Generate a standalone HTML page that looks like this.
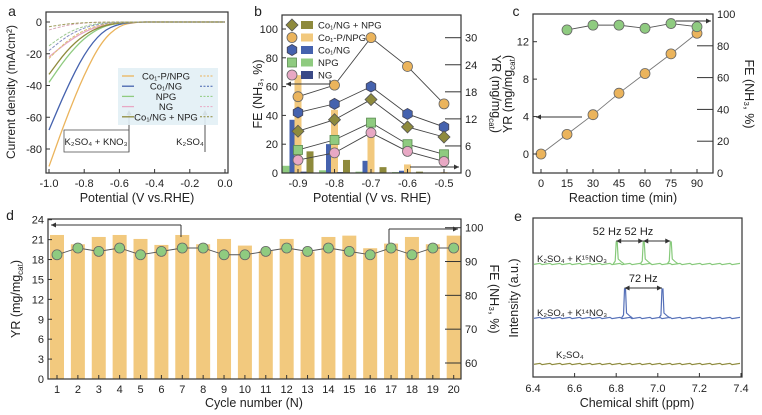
<!DOCTYPE html>
<html><head><meta charset="utf-8"><style>
body{margin:0;background:#fff}
svg{display:block;font-family:"Liberation Sans",sans-serif}
</style></head><body>
<svg id="fig" width="762" height="415" viewBox="0 0 762 415"></svg>
<script>
// ---------- Panel a data ----------
const aPot=[-1.0,-0.9,-0.8,-0.7,-0.6,-0.5,-0.4,0];
const aCo1PNPG=[-91,-60,-33,-12,-2,0,0,0];
const aCo1NG=[-68,-42,-20,-6,-1,0,0,0];
const aNPG=[-38,-22,-10,-3,-0.5,0,0,0];
const aNG=[-22,-13,-6,-2,-0.3,0,0,0];
const aMix=[-33,-18,-8,-2.5,-0.4,0,0,0];
const aCo1PNPGd=[-23,-12,-5,-1.5,-0.2,0,0,0];
const aCo1NGd=[-18,-9,-3.5,-1,-0.1,0,0,0];
const aNPGd=[-15,-7,-2.5,-0.6,0,0,0,0];
const aNGd=[-5,-2,-0.6,-0.1,0,0,0,0];
const aMixd=[-3,-1.2,-0.4,-0.1,0,0,0,0];
// ---------- Panel b data ----------
const bPot=[-0.9,-0.8,-0.7,-0.6,-0.5];
const bFEmix=[29,37,51,32,25];
const bFEco1p=[53,61,94,74,48];
const bFEco1ng=[42,48,60,41,32];
const bFEnpg=[16,23,35,20,13];
const bFEng=[9,14,28,15,8];
const bYRnpg=[1.6,0.6,0.3,0.2,0.1];
const bYRco1ng=[11.8,6.4,2.7,0.5,0.1];
const bYRco1p=[21.7,14,8.9,1.9,0.2];
const bYRng=[0.3,0.2,0.1,0.1,0.1];
const bYRmix=[4.8,2.9,1.3,0.3,0.1];
// ---------- Panel c data ----------
const cTimeYR=[0,15,30,45,60,75,90];
const cYR=[0,2.1,4.2,6.5,8.6,10.7,12.9];
const cTimeFE=[15,30,45,60,75,90];
const cFE=[90,93,93,91,94,92];
// ---------- Panel d data ----------
const dCycles=[1,2,3,4,5,6,7,8,9,10,11,12,13,14,15,16,17,18,19,20];
const dYR=[21.7,20.3,21.4,21.7,21.1,20.2,21.7,20.3,21.1,20.1,19.3,21.1,19.2,21.4,21.6,19.7,20.4,21.4,20.3,21.6];
const dFE=[92,94,93,94,92,93,94,94,92,92,93,94,93,94,93,92,94,92,94,94];
// ---------- Panel e data ----------
const eTicks=[6.4,6.6,6.8,7.0,7.2,7.4];
const e15Peaks=[6.80,6.93,7.06];
const e14Peaks=[6.84,7.02];

const NS="http://www.w3.org/2000/svg";
const svg=document.getElementById('fig');
function el(tag,attrs,parent,txt){const e=document.createElementNS(NS,tag);for(const k in attrs)e.setAttribute(k,attrs[k]);if(txt!==undefined)e.textContent=txt;(parent||svg).appendChild(e);return e;}
function lin(d0,d1,r0,r1){return v=>r0+(v-d0)*(r1-r0)/(d1-d0);}
function grp(name){const g=el('g',{});return g;}
function txt(g,x,y,s,size,anchor,name,extra){const t=el('text',Object.assign({x:x,y:y,'font-size':size,'text-anchor':anchor||'middle',fill:'#222'},extra||{}),g,s);return t;}
function yrTitle(g,x,y,rot,name){const t=el('text',{x:x,y:y,'font-size':12.5,'text-anchor':'middle',fill:'#222',transform:`rotate(${rot} ${x} ${y})`},g);el('tspan',{},t,'YR (mg/mg');el('tspan',{'font-size':8,dy:3},t,'cat');el('tspan',{dy:-3},t,')');}
function box(g,x0,y0,x1,y1){const r=el('rect',{x:x0,y:y0,width:x1-x0,height:y1-y0,fill:'none',stroke:'#333','stroke-width':1.2},g);}
function tickY(g,x,y,dir,len){el('line',{x1:x,y1:y,x2:x+dir*len,y2:y,stroke:'#333','stroke-width':1},g);}
function tickX(g,x,y,len){el('line',{x1:x,y1:y,x2:x,y2:y-len,stroke:'#333','stroke-width':1},g);}
function poly(g,xs,ys,color,w,dash,name){const p=el('polyline',{points:xs.map((x,i)=>x+','+ys[i]).join(' '),fill:'none',stroke:color,'stroke-width':w,'stroke-dasharray':dash||'none'},g);return p;}
function sm(g,xs,ys,color,w,dash,name){let d='M'+xs[0]+','+ys[0];for(let i=1;i<xs.length;i++){const mx=(xs[i-1]+xs[i])/2;d+=' Q'+xs[i-1]+','+ys[i-1]+' '+mx+','+(ys[i-1]+ys[i])/2;}d+=' L'+xs[xs.length-1]+','+ys[ys.length-1];const p=el('path',{d:d,fill:'none',stroke:color,'stroke-width':w,'stroke-dasharray':dash||'none'},g);}
function arrowL(g,x0,x1,y){el('line',{x1:x0,y1:y,x2:x1,y2:y,stroke:'#333','stroke-width':1},g);const d=x1<x0?1:-1;el('polygon',{points:`${x1},${y} ${x1+d*5},${y-2.5} ${x1+d*5},${y+2.5}`,fill:'#333'},g);}
const OR='#EBB45C',ORB='#F2C97E',BL='#4562AE',GR='#8FCB80',OL='#8E8A3C',PK='#E8A8C4',NV='#3B4A86';
function marker(g,shape,x,y,fill,name){let m;if(shape==='c')m=el('circle',{cx:x,cy:y,r:5,fill:fill,stroke:'#666','stroke-width':0.8},g);else if(shape==='s')m=el('rect',{x:x-4.5,y:y-4.5,width:9,height:9,fill:fill,stroke:'#5a8a50','stroke-width':0.8},g);else if(shape==='d')m=el('polygon',{points:`${x},${y-6} ${x+6},${y} ${x},${y+6} ${x-6},${y}`,fill:fill,stroke:'#555','stroke-width':0.8},g);else{let pts=[];for(let k=0;k<6;k++){const a=Math.PI/3*k+Math.PI/6;pts.push((x+5.5*Math.cos(a))+','+(y+5.5*Math.sin(a)));}m=el('polygon',{points:pts.join(' '),fill:fill,stroke:'#445','stroke-width':0.8},g);}
}

// ===== Panel a =====
(function(){const g=grp('panel-a');
const X=lin(-1,0,49,225),Y=lin(0,-80,22,149);
txt(g,12,16,'a',14,'middle','panel-label-a');
const series=[[aCo1PNPG,OR,0],[aCo1NG,BL,0],[aNPG,GR,0],[aNG,PK,0],[aMix,OL,0],[aCo1PNPGd,'#D8C070',1],[aCo1NGd,'#8890C0',1],[aNPGd,'#9CC890',1],[aNGd,'#D8A8B8',1],[aMixd,'#A0A060',1]];
series.forEach((s,i)=>sm(g,aPot.map(X),s[0].map(Y),s[1],s[2]?1:1.3,s[2]?'3,1.5':'',i<5?'lsv-curve-kno3-'+i:'lsv-curve-k2so4-'+(i-5)));
box(g,46,12,228,173);
[0,-20,-40,-60,-80].forEach(v=>{tickY(g,46,Y(v),1,4);txt(g,42,Y(v)+4,String(v),11,'end','y-tick-a');});
[-1,-0.8,-0.6,-0.4,-0.2,0].forEach(v=>{tickX(g,X(v),173,4);txt(g,X(v),187,v.toFixed(1),11,'middle','x-tick-a');});
txt(g,137,202,'Potential (V vs.RHE)',12.5,'middle','x-axis-title-a');
txt(g,15,92,'Current density (mA/cm²)',12,'middle','y-axis-title-a',{transform:'rotate(-90 15 92)'});
const lg=grp('legend-a');
el('rect',{x:118,y:68,width:100,height:57,fill:'#E2EFF5',opacity:0.9},lg);
const names=['Co₁-P/NPG','Co₁/NG','NPG','NG','Co₁/NG + NPG'];
[OR,BL,GR,PK,OL].forEach((c,i)=>{const y=76+i*10.2;el('line',{x1:122,y1:y,x2:134,y2:y,stroke:c,'stroke-width':1.3},lg);el('line',{x1:200,y1:y,x2:214,y2:y,stroke:c,'stroke-width':1,'stroke-dasharray':'2,1.5'},lg);txt(lg,166,y+3.5,names[i],9.5,'middle','legend-entry-a');});
el('rect',{x:64,y:130,width:65,height:22,fill:'#fff',stroke:'#555','stroke-width':0.8},g);
txt(g,96,145,'K₂SO₄ + KNO₃',9.5,'middle','annotation-kno3');
el('line',{x1:129,y1:152,x2:129,y2:112,stroke:'#555'},g);el('polygon',{points:'129,110 126.5,115 131.5,115',fill:'#555'},g);
txt(g,190,145,'K₂SO₄',9.5,'middle','annotation-k2so4');
el('line',{x1:205,y1:152,x2:205,y2:112,stroke:'#555'},g);el('polygon',{points:'205,110 202.5,115 207.5,115',fill:'#555'},g);
})();

// ===== Panel b =====
(function(){const g=grp('panel-b');
const X=lin(-0.9,-0.5,298,444),YL=lin(0,100,173,29),YR=lin(0,30,173,37.7);
txt(g,258,16,'b',14,'middle','panel-label-b');
const bars=[[bYRnpg,GR,-12],[bYRco1ng,BL,-5],[bYRco1p,ORB,0],[bYRng,NV,6],[bYRmix,OL,12]];
bars.forEach((b,bi)=>bPot.forEach((p,i)=>{const r=el('rect',{x:X(p)+b[2]-3.5,y:YR(b[0][i]),width:7,height:173-YR(b[0][i]),fill:b[1]},g);}));
const lines=[[bFEco1p,OR,'c'],[bFEco1ng,BL,'h'],[bFEmix,OL,'d'],[bFEnpg,GR,'s'],[bFEng,PK,'c']];
lines.forEach((l,li)=>{poly(g,bPot.map(X),l[0].map(YL),'#444',0.9,'','fe-line-b-'+li);bPot.forEach((p,i)=>marker(g,l[2],X(p),YL(l[0][i]),l[1],'fe-point-b'));});
box(g,282,15,461,173);
[0,20,40,60,80,100].forEach(v=>{tickY(g,282,YL(v),1,4);txt(g,278,YL(v)+4,String(v),11,'end','y-tick-b-left');});
[0,6,12,18,24,30].forEach(v=>{tickY(g,461,YR(v),-4,4);txt(g,465,YR(v)+4,String(v),11,'start','y-tick-b-right');});
bPot.forEach(v=>{tickX(g,X(v),173,4);txt(g,X(v),187,v.toFixed(1),11,'middle','x-tick-b');});
txt(g,372,202,'Potential (V vs. RHE)',12.5,'middle','x-axis-title-b');
txt(g,262,94,'FE (NH₃, %)',12.5,'middle','y-axis-title-b-left',{transform:'rotate(-90 262 94)'});
yrTitle(g,492,94,90,'y-axis-title-b-right');
arrowL(g,330,286,84);el('line',{x1:330,y1:84,x2:330,y2:80,stroke:'#333'},g);
arrowL(g,410,459,167);
const lg=grp('legend-b');const nm=['Co₁/NG + NPG','Co₁-P/NPG','Co₁/NG','NPG','NG'];const mk=[['d',OL],['c',OR],['h',BL],['s',GR],['c',PK]];const bc=[OL,ORB,BL,GR,NV];
nm.forEach((n,i)=>{const y=25+i*12.5;marker(lg,mk[i][0],292,y,mk[i][1],'legend-marker-b');el('rect',{x:301,y:y-4,width:12,height:8,fill:bc[i]},lg);txt(lg,318,y+3.5,n,9.5,'start','legend-entry-b');});
})();

// ===== Panel c =====
(function(){const g=grp('panel-c');
const X=lin(0,90,541,697),YL=lin(0,12,154,41.7),YR=lin(0,100,173,14);
txt(g,516,16,'c',14,'middle','panel-label-c');
poly(g,cTimeYR.map(X),cYR.map(YL),'#777',0.9,'','yr-line-c');cTimeYR.forEach((t,i)=>marker(g,'c',X(t),YL(cYR[i]),OR,'yr-point-c'));
poly(g,cTimeFE.map(X),cFE.map(YR),'#555',0.9,'','fe-line-c');cTimeFE.forEach((t,i)=>marker(g,'c',X(t),YR(cFE[i]),GR,'fe-point-c'));
box(g,533,14,713,173);
[0,4,8,12].forEach(v=>{tickY(g,533,YL(v),1,4);txt(g,529,YL(v)+4,String(v),11,'end','y-tick-c-left');});
[0,20,40,60,80,100].forEach(v=>{tickY(g,713,YR(v),-4,4);txt(g,717,YR(v)+4,String(v),11,'start','y-tick-c-right');});
[0,15,30,45,60,75,90].forEach(v=>{tickX(g,X(v),173,4);txt(g,X(v),187,String(v),11,'middle','x-tick-c');});
txt(g,623,202,'Reaction time (min)',12.5,'middle','x-axis-title-c');
yrTitle(g,512,94,-90,'y-axis-title-c-left');
txt(g,745,94,'FE (NH₃, %)',12.5,'middle','y-axis-title-c-right',{transform:'rotate(90 745 94)'});
arrowL(g,582,536,117);arrowL(g,676,711,21);
})();

// ===== Panel d =====
(function(){const g=grp('panel-d');
const X=lin(1,20,57,453.7),YL=lin(0,24,379,219.7),YR=lin(60,100,363,227.7);
txt(g,10,220,'d',14,'middle','panel-label-d');
dCycles.forEach((c,i)=>{const r=el('rect',{x:X(c)-7,y:YL(dYR[i]),width:14,height:379-YL(dYR[i]),fill:ORB},g);});
poly(g,dCycles.map(X),dFE.map(YR),'#555',0.9,'','fe-line-d');dCycles.forEach((c,i)=>marker(g,'c',X(c),YR(dFE[i]),GR,'fe-point-d'));
box(g,48,219,461,379);
[0,3,6,9,12,15,18,21,24].forEach(v=>{tickY(g,48,YL(v),1,4);txt(g,44,YL(v)+4,String(v),11,'end','y-tick-d-left');});
[60,70,80,90,100].forEach(v=>{tickY(g,461,YR(v),-4,4);txt(g,465,YR(v)+4,String(v),11,'start','y-tick-d-right');});
dCycles.forEach(v=>{tickX(g,X(v),379,4);txt(g,X(v),393,String(v),11,'middle','x-tick-d');});
txt(g,254,407,'Cycle number (N)',12.5,'middle','x-axis-title-d');
yrTitle(g,20,299,-90,'y-axis-title-d-left');
txt(g,490,299,'FE (NH₃, %)',12.5,'middle','y-axis-title-d-right',{transform:'rotate(90 490 299)'});
arrowL(g,181,51,225);el('line',{x1:181,y1:225,x2:181,y2:237,stroke:'#333'},g);
arrowL(g,389,458,229);el('line',{x1:389,y1:229,x2:389,y2:243,stroke:'#333'},g);
})();

// ===== Panel e =====
(function(){const g=grp('panel-e');
const X=lin(6.4,7.4,533,741);
txt(g,518,221,'e',14,'middle','panel-label-e');
function spec(base,peaks,h,color,name){const xs=[],ys=[];for(let px=534;px<=740;px+=2){xs.push(px);let y=base+((px*7)%5-2)*0.3;ys.push(y);}
let d='M'+xs[0]+','+ys[0];xs.forEach((x,i)=>d+=' L'+x+','+ys[i]);
const p=el('path',{d:d,fill:'none',stroke:color,'stroke-width':1.2},g);
peaks.forEach(pk=>{const x=X(pk);const pp=el('path',{d:`M${x-3},${base} L${x-1},${base-3} L${x},${base-h} L${x+1},${base-h} L${x+2},${base-5} Q${x+5},${base-2} ${x+8},${base}`,fill:'none',stroke:color,'stroke-width':1.2},g);});}
spec(264,e15Peaks,22,'#86C97A','spectrum-k15no3');
spec(318,e14Peaks,29,'#5570B8','spectrum-k14no3');
spec(364,[],0,'#8E8A3C','spectrum-k2so4');
box(g,533,218,742,377);
eTicks.forEach(v=>{tickX(g,X(v),377,4);txt(g,X(v),392,v.toFixed(1),11,'middle','x-tick-e');});
txt(g,637,407,'Chemical shift (ppm)',12.5,'middle','x-axis-title-e');
txt(g,518,298,'Intensity (a.u.)',12.5,'middle','y-axis-title-e',{transform:'rotate(-90 518 298)'});
txt(g,537,262,'K₂SO₄ + K¹⁵NO₃',9.5,'start','label-k15no3');
txt(g,537,316,'K₂SO₄ + K¹⁴NO₃',9.5,'start','label-k14no3');
txt(g,556,358,'K₂SO₄',9.5,'start','label-k2so4');
txt(g,623,235,'52 Hz 52 Hz',11,'middle','annotation-52hz');
function dbl(x0,x1,y){el('line',{x1:x0,y1:y,x2:x1,y2:y,stroke:'#333'},g);el('polygon',{points:`${x0},${y} ${x0+5},${y-2.5} ${x0+5},${y+2.5}`,fill:'#333'},g);el('polygon',{points:`${x1},${y} ${x1-5},${y-2.5} ${x1-5},${y+2.5}`,fill:'#333'},g);}
dbl(X(6.80),X(6.93),241);dbl(X(6.93),X(7.06),241);
txt(g,X(6.93),282,'72 Hz',11,'middle','annotation-72hz');dbl(X(6.84),X(7.02),288);
})();
</script>
</body></html>
